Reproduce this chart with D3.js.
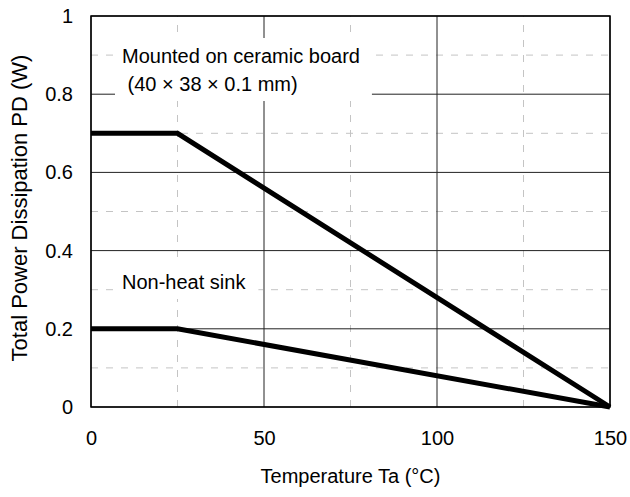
<!DOCTYPE html>
<html>
<head>
<meta charset="utf-8">
<script src="https://cdn.jsdelivr.net/npm/d3@7"></script>
<style>
  html, body { margin: 0; padding: 0; background: #fff; }
  svg { display: block; font-family: "Liberation Sans", Arial, Helvetica, sans-serif; }
</style>
</head>
<body>
<svg id="chart" width="630" height="497"></svg>
<script>
// Derating curves: total power dissipation vs ambient temperature
const ceramicBoard = [[0, 0.7], [25, 0.7], [150, 0]];
const nonHeatSink  = [[0, 0.2], [25, 0.2], [150, 0]];

const xMajorTicks = [0, 50, 100, 150];
const xMinorTicks = [25, 75, 125];
const yMajorTicks = [0, 0.2, 0.4, 0.6, 0.8, 1];
const yMinorTicks = [0.1, 0.3, 0.5, 0.7, 0.9];

const xTitle = "Temperature Ta (\u00B0C)";
const yTitle = "Total Power Dissipation PD (W)";
const ceramicLabel = ["Mounted on ceramic board", "\u00A0(40 \u00D7 38 \u00D7 0.1 mm)"];
const nonHeatLabel = ["Non-heat sink"];

const margin = { left: 91, right: 20, top: 16, bottom: 90 };
const W = 630, H = 497;
const svg = d3.select("#chart");

const x = d3.scaleLinear().domain([0, 150]).range([margin.left, W - margin.right]);
const y = d3.scaleLinear().domain([0, 1]).range([H - margin.bottom, margin.top]);

const g = svg.append("g");

// minor (dashed) grid
g.selectAll("line.xminor").data(xMinorTicks).join("line")
  .attr("x1", d => x(d)).attr("x2", d => x(d))
  .attr("y1", y(0)).attr("y2", y(1))
  .attr("stroke", "#c4c4c4").attr("stroke-width", 1).attr("stroke-dasharray", "7,8");
g.selectAll("line.yminor").data(yMinorTicks).join("line")
  .attr("x1", x(0)).attr("x2", x(150))
  .attr("y1", d => y(d)).attr("y2", d => y(d))
  .attr("stroke", "#c4c4c4").attr("stroke-width", 1).attr("stroke-dasharray", "7,8");

// major (solid) grid
g.selectAll("line.xmajor").data(xMajorTicks).join("line")
  .attr("x1", d => x(d)).attr("x2", d => x(d))
  .attr("y1", y(0)).attr("y2", y(1))
  .attr("stroke", "#222").attr("stroke-width", 1);
g.selectAll("line.ymajor").data(yMajorTicks).join("line")
  .attr("x1", x(0)).attr("x2", x(150))
  .attr("y1", d => y(d)).attr("y2", d => y(d))
  .attr("stroke", "#222").attr("stroke-width", 1);

// annotation labels on white boxes
function annotate(lines, tx, ty, lineGap) {
  const grp = svg.append("g");
  const bg = grp.append("rect").attr("fill", "#fff");
  const t = grp.append("text").attr("font-size", 20).attr("fill", "#000");
  lines.forEach((s, i) => {
    t.append("tspan").attr("x", tx).attr("y", ty + i * lineGap).text(s);
  });
  const b = t.node().getBBox();
  bg.attr("x", b.x - 7).attr("y", b.y - 7).attr("width", b.width + 19).attr("height", b.height + 13);
}
annotate(ceramicLabel, x(0) + 31, 63, 28);
annotate(nonHeatLabel, x(0) + 31, 289, 28);

// frame
g.append("rect")
  .attr("x", x(0)).attr("y", y(1))
  .attr("width", x(150) - x(0)).attr("height", y(0) - y(1))
  .attr("fill", "none").attr("stroke", "#000").attr("stroke-width", 1.5);

// curves
const line = d3.line().x(d => x(d[0])).y(d => y(d[1]));
[ceramicBoard, nonHeatSink].forEach(series => {
  svg.append("path").datum(series)
    .attr("d", line)
    .attr("fill", "none").attr("stroke", "#000")
    .attr("stroke-width", 5).attr("stroke-linejoin", "miter");
});

// axes (labels only, grid supplies the lines)
const xAxis = d3.axisBottom(x).tickValues(xMajorTicks).tickSize(0).tickPadding(24).tickFormat(d3.format("d"));
const yAxis = d3.axisLeft(y).tickValues(yMajorTicks).tickSize(0).tickPadding(18).tickFormat(d => d === 0 || d === 1 ? String(d) : d3.format(".1f")(d));

svg.append("g").attr("transform", `translate(0,${y(0)})`).call(xAxis)
  .call(a => a.select(".domain").remove())
  .call(a => a.selectAll("text").attr("font-size", 20).attr("fill", "#000").attr("font-family", null));
svg.append("g").attr("transform", `translate(${x(0)},0)`).call(yAxis)
  .call(a => a.select(".domain").remove())
  .call(a => a.selectAll("text").attr("font-size", 20).attr("fill", "#000").attr("font-family", null));

// axis titles
svg.append("text")
  .attr("x", (x(0) + x(150)) / 2).attr("y", 483)
  .attr("text-anchor", "middle").attr("font-size", 20).text(xTitle);
svg.append("text")
  .attr("transform", `translate(27,208) rotate(-90)`)
  .attr("text-anchor", "middle").attr("font-size", 22).text(yTitle);
</script>
</body>
</html>
